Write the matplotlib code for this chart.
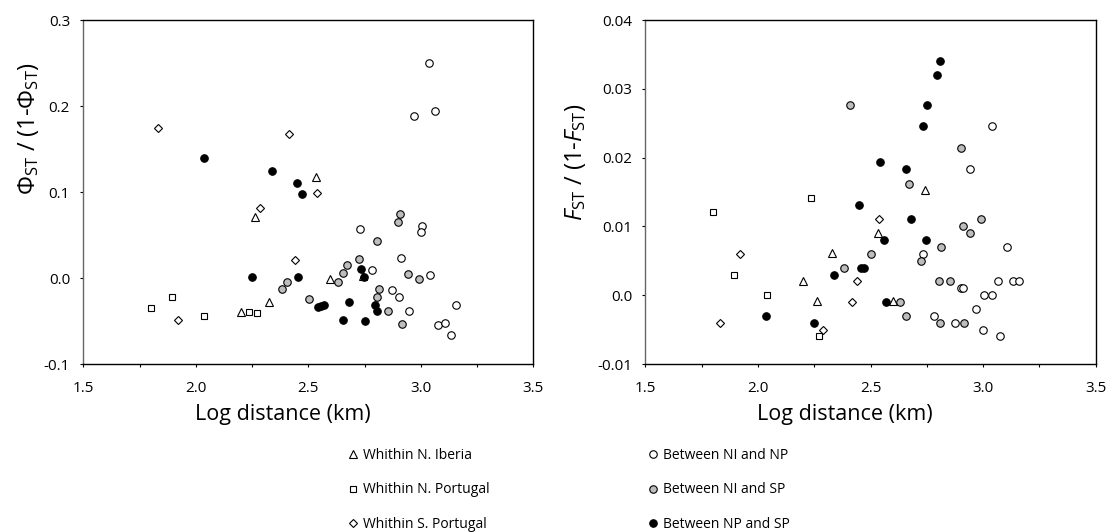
import matplotlib
matplotlib.use("Agg")
import matplotlib.pyplot as plt
from matplotlib.lines import Line2D
from matplotlib.ticker import MultipleLocator, FixedLocator, FixedFormatter

plt.rcParams['font.family'] = ['Open Sans', 'DejaVu Sans']
plt.rcParams['mathtext.fontset'] = 'custom'
plt.rcParams['mathtext.rm'] = 'Open Sans'
plt.rcParams['mathtext.it'] = 'Open Sans:italic'
plt.rcParams['mathtext.bf'] = 'Open Sans:bold'

# ---------------- data: left panel (Phi_ST / (1 - Phi_ST)) ----------------
phi_np_ni_x = [3.036, 2.970, 3.064, 2.730, 3.005, 3.000, 2.912, 2.782, 3.040, 2.873, 2.902, 2.946, 3.158, 3.076, 3.108, 3.133]
phi_np_ni_y = [0.250, 0.188, 0.194, 0.057, 0.061, 0.053, 0.023, 0.009, 0.003, -0.014, -0.022, -0.038, -0.031, -0.055, -0.052, -0.066]
phi_ni_sp_x = [2.909, 2.900, 2.807, 2.725, 2.671, 2.654, 2.632, 2.942, 2.992, 2.407, 2.382, 2.814, 2.804, 2.503, 2.854, 2.916]
phi_ni_sp_y = [0.074, 0.065, 0.043, 0.022, 0.015, 0.006, -0.005, 0.005, -0.001, -0.005, -0.013, -0.013, -0.022, -0.024, -0.038, -0.054]
phi_np_sp_x = [2.038, 2.339, 2.448, 2.472, 2.248, 2.456, 2.734, 2.746, 2.682, 2.545, 2.557, 2.570, 2.798, 2.807, 2.656, 2.751]
phi_np_sp_y = [0.139, 0.125, 0.110, 0.098, 0.001, 0.001, 0.010, 0.001, -0.0275, -0.034, -0.0326, -0.0314, -0.031, -0.038, -0.0485, -0.050]
phi_iberia_x = [2.536, 2.264, 2.598, 2.327, 2.201, 2.744]
phi_iberia_y = [0.117, 0.071, -0.001, -0.0275, -0.039, 0.002]
phi_nport_x = [1.801, 1.894, 2.036, 2.236, 2.272]
phi_nport_y = [-0.035, -0.022, -0.044, -0.040, -0.041]
phi_sport_x = [1.833, 2.416, 2.537, 2.287, 2.441, 1.921]
phi_sport_y = [0.175, 0.167, 0.099, 0.081, 0.021, -0.049]

# ---------------- data: right panel (F_ST / (1 - F_ST)) ----------------
f_ni_np_x = [3.040, 2.944, 3.108, 2.731, 2.903, 2.912, 3.066, 3.131, 3.158, 3.004, 3.040, 2.970, 2.783, 2.875, 3.000, 3.076]
f_ni_np_y = [0.0246, 0.0183, 0.007, 0.006, 0.001, 0.001, 0.002, 0.002, 0.002, 0.0, 0.0, -0.002, -0.003, -0.004, -0.005, -0.006]
f_ni_sp_x = [2.407, 2.900, 2.671, 2.992, 2.909, 2.943, 2.814, 2.503, 2.725, 2.382, 2.804, 2.854, 2.632, 2.657, 2.807, 2.916]
f_ni_sp_y = [0.0277, 0.0214, 0.0162, 0.0111, 0.0101, 0.0091, 0.007, 0.006, 0.005, 0.004, 0.002, 0.002, -0.001, -0.003, -0.004, -0.004]
f_np_sp_x = [2.807, 2.796, 2.749, 2.734, 2.543, 2.657, 2.450, 2.681, 2.562, 2.746, 2.456, 2.473, 2.339, 2.568, 2.038, 2.250]
f_np_sp_y = [0.0341, 0.032, 0.0277, 0.0246, 0.0194, 0.0183, 0.0131, 0.0111, 0.008, 0.008, 0.004, 0.004, 0.003, -0.001, -0.003, -0.004]
f_iberia_x = [2.744, 2.534, 2.327, 2.202, 2.263, 2.598]
f_iberia_y = [0.0153, 0.0091, 0.0061, 0.0021, -0.0009, -0.0008]
f_nport_x = [2.236, 1.800, 1.894, 2.039, 2.273]
f_nport_y = [0.0142, 0.0121, 0.003, 0.0, -0.006]
f_sport_x = [2.537, 1.919, 2.442, 2.417, 1.833, 2.287]
f_sport_y = [0.0111, 0.006, 0.002, -0.001, -0.004, -0.005]

labels = ["Whithin N. Iberia", "Whithin N. Portugal", "Whithin S. Portugal",
          "Between NI and NP", "Between NI and SP", "Between NP and SP"]

xticks = [1.5, 2.0, 2.5, 3.0, 3.5]
xticklabels = ["1.5", "2.0", "2.5", "3.0", "3.5"]
phi_yticks = [-0.1, 0.0, 0.1, 0.2, 0.3]
phi_yticklabels = ["-0.1", "0.0", "0.1", "0.2", "0.3"]
f_yticks = [-0.01, 0.0, 0.01, 0.02, 0.03, 0.04]
f_yticklabels = ["-0.01", "0.0", "0.01", "0.02", "0.03", "0.04"]

GRAY = '#bdbdbd'
EW = 0.8
styles = [
    dict(marker='^', ms=5.2, mfc='white', mec='black'),
    dict(marker='s', ms=5.0, mfc='white', mec='black'),
    dict(marker='D', ms=3.6, mfc='white', mec='black'),
    dict(marker='o', ms=5.4, mfc='white', mec='black'),
    dict(marker='o', ms=5.4, mfc=GRAY, mec='black'),
    dict(marker='o', ms=5.4, mfc='black', mec='black'),
]

fig = plt.figure(figsize=(11.14, 5.32), dpi=100)
axL = fig.add_axes([83.3 / 1114, 1 - 364 / 532, 450 / 1114, 344 / 532])
axR = fig.add_axes([645.3 / 1114, 1 - 364 / 532, 450.4 / 1114, 344 / 532])

def draw(ax, series):
    for (x, y), st in zip(series, styles):
        ax.plot(x, y, linestyle='none', mew=EW, **st)

draw(axL, [(phi_iberia_x, phi_iberia_y), (phi_nport_x, phi_nport_y), (phi_sport_x, phi_sport_y),
           (phi_np_ni_x, phi_np_ni_y), (phi_ni_sp_x, phi_ni_sp_y), (phi_np_sp_x, phi_np_sp_y)])
draw(axR, [(f_iberia_x, f_iberia_y), (f_nport_x, f_nport_y), (f_sport_x, f_sport_y),
           (f_ni_np_x, f_ni_np_y), (f_ni_sp_x, f_ni_sp_y), (f_np_sp_x, f_np_sp_y)])

for ax, yt, ytl in [(axL, phi_yticks, phi_yticklabels), (axR, f_yticks, f_yticklabels)]:
    ax.set_xlim(1.5, 3.5)
    ax.set_ylim(yt[0], yt[-1])
    ax.xaxis.set_major_locator(FixedLocator(xticks))
    ax.xaxis.set_major_formatter(FixedFormatter(xticklabels))
    ax.xaxis.set_minor_locator(MultipleLocator(0.25))
    ax.yaxis.set_major_locator(FixedLocator(yt))
    ax.yaxis.set_major_formatter(FixedFormatter(ytl))
    ax.tick_params(axis='both', which='both', direction='out', length=2.5, width=0.8,
                   labelsize=11, colors='black')
    ax.tick_params(axis='x', which='major', pad=10)
    ax.tick_params(axis='y', which='major', pad=7)
    ax.tick_params(top=False, right=False)
    for side in ['top', 'right', 'bottom']:
        ax.spines[side].set_linewidth(1.0)
        ax.spines[side].set_color('black')
    ax.spines['left'].set_linewidth(1.0)
    ax.spines['left'].set_color('#666666')
    ax.set_xlabel("Log distance (km)", fontsize=15.5)
    ax.xaxis.set_label_coords(0.444, -0.115)

axL.set_ylabel(r"$\mathregular{\Phi_{ST}}$ / (1-$\mathregular{\Phi_{ST}}$)", fontsize=17)
axL.yaxis.set_label_coords(-0.095, 0.683)
axR.set_ylabel(r"$\mathit{F}_{\mathrm{ST}}$ / (1-$\mathit{F}_{\mathrm{ST}}$)", fontsize=17)
axR.yaxis.set_label_coords(-0.127, 0.587)

handles = [Line2D([], [], linestyle='none', mew=EW, **st) for st in styles]
common = dict(frameon=False, fontsize=10, handlelength=0.8, handletextpad=0.35,
              labelspacing=1.4, borderpad=0, borderaxespad=0, loc='upper left')
fig.legend(handles[:3], labels[:3], bbox_to_anchor=(347 / 1114, 1 - 448 / 532), **common)
fig.legend(handles[3:], labels[3:], bbox_to_anchor=(647 / 1114, 1 - 448 / 532), **common)

fig.savefig("out.png", dpi=100)
